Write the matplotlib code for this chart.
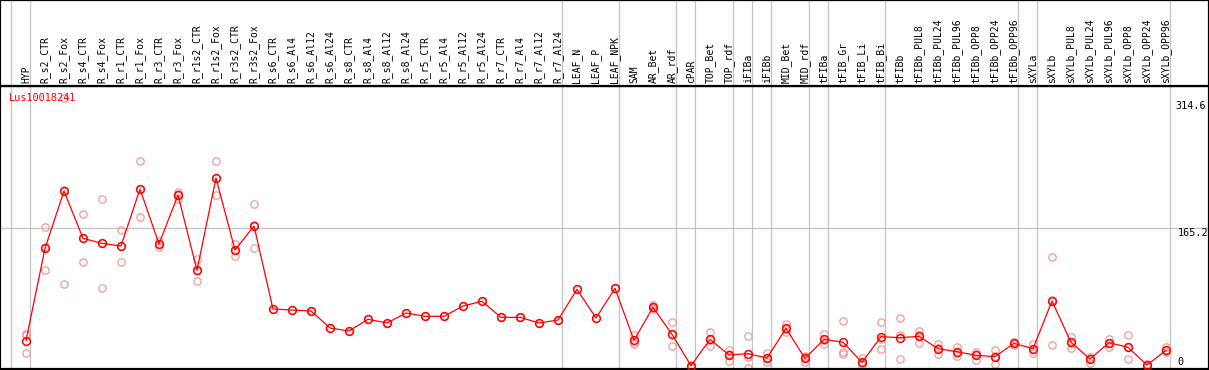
import numpy as np
import matplotlib
matplotlib.use("Agg")
import matplotlib.pyplot as plt

gene_id = "Lus10018241"

samples = [
    "HYP",
    "R_s2_CTR", "R_s2_Fox", "R_s4_CTR", "R_s4_Fox", "R_r1_CTR", "R_r1_Fox",
    "R_r3_CTR", "R_r3_Fox", "R_r1s2_CTR", "R_r1s2_Fox", "R_r3s2_CTR", "R_r3s2_Fox",
    "R_s6_CTR", "R_s6_Al4", "R_s6_Al12", "R_s6_Al24",
    "R_s8_CTR", "R_s8_Al4", "R_s8_Al12", "R_s8_Al24",
    "R_r5_CTR", "R_r5_Al4", "R_r5_Al12", "R_r5_Al24",
    "R_r7_CTR", "R_r7_Al4", "R_r7_Al12", "R_r7_Al24",
    "LEAF_N", "LEAF_P", "LEAF_NPK",
    "SAM", "AR_Bet", "AR_rdf",
    "cPAR",
    "TOP_Bet", "TOP_rdf",
    "iFIBa",
    "iFIBb",
    "MID_Bet", "MID_rdf",
    "tFIBa",
    "tFIB_Gr", "tFIB_Li", "tFIB_Bi",
    "tFIBb", "tFIBb_PUL8", "tFIBb_PUL24", "tFIBb_PUL96",
    "tFIBb_OPP8", "tFIBb_OPP24", "tFIBb_OPP96",
    "sXYLa",
    "sXYLb", "sXYLb_PUL8", "sXYLb_PUL24", "sXYLb_PUL96",
    "sXYLb_OPP8", "sXYLb_OPP24", "sXYLb_OPP96",
]

# number of samples in each tissue group (separated by grey lines)
group_sizes = [1, 28, 3, 3, 1, 2, 1, 1, 2, 1, 3, 7, 1, 7]

# mean expression per sample
mean_expr = [
    32.2,
    141.2, 208.9, 153.0, 147.1, 144.0, 211.2, 146.3, 204.1, 115.3, 224.2, 139.2, 167.6,
    69.6, 68.4, 67.3, 47.2, 43.7, 57.5, 53.1, 64.9,
    61.0, 61.0, 73.2, 78.7, 59.8, 59.8, 53.1, 56.6,
    92.8, 59.0, 94.0,
    32.7, 71.6, 39.7,
    2.7,
    33.8, 15.3,
    16.9,
    11.8,
    46.8, 11.4,
    33.8,
    30.4, 6.7, 37.0,
    35.8, 37.4, 22.8, 19.2, 15.0, 13.4, 29.1,
    22.8,
    79.0, 30.3, 10.6, 29.9, 24.4, 3.5, 20.9,
]

# individual replicates
replicates = [
    [40.1, 39.2, 17.3],
    [166.0, 142.3, 115.3], [318.2, 209.8, 98.7], [181.3, 153.0, 124.7],
    [199.4, 147.9, 94.0], [162.8, 144.5, 124.7], [244.3, 211.5, 177.8],
    [149.5, 146.2, 143.2], [208.0, 205.3, 199.0], [128.3, 115.0, 102.7],
    [244.3, 224.5, 203.8], [146.0, 139.1, 132.5], [193.2, 168.4, 141.2],
    [69.6], [68.4], [67.3], [47.2], [43.7], [57.5], [53.1], [64.9],
    [61.0], [61.0], [73.2], [78.7], [59.8], [59.8], [53.1], [56.6],
    [92.8], [59.0], [94.0],
    [38.9, 31.0, 28.3], [74.3, 71.2, 69.3], [53.9, 39.3, 26.0],
    [4.0, 2.7, 1.5],
    [42.1, 33.4, 26.0], [21.2, 16.0, 8.7],
    [37.8, 13.0, 0.0],
    [17.3, 11.4, 6.7],
    [51.5, 46.0, 42.9], [14.2, 13.3, 6.7],
    [40.1, 33.0, 28.3],
    [55.5, 19.2, 16.5], [11.4, 5.7, 3.0], [53.9, 34.7, 22.4],
    [58.6, 38.5, 10.3], [44.0, 39.0, 29.1], [28.3, 23.2, 16.9], [25.2, 18.2, 14.2],
    [19.2, 16.7, 9.1], [21.2, 14.7, 4.3], [30.5, 29.1, 27.7],
    [28.3, 22.0, 18.1],
    [130.6, 79.7, 26.7], [37.0, 30.0, 24.0], [13.4, 12.0, 6.3], [34.6, 29.9, 25.2],
    [38.6, 24.4, 10.3], [5.0, 3.5, 2.0], [24.4, 20.9, 18.5],
]

y_max = 314.6
y_mid = 165.2

RED = "#ff0000"
PALE = "#f09a9a"
GRID = "#c4c4c4"
MONO = "DejaVu Sans Mono"

W, H = 1209, 370
fig = plt.figure(figsize=(W / 100, H / 100), dpi=100)

header_px = 86
xlim = (-26 / 19, (W - 26) / 19)
ylim = (-1.18, 332.8)

ax = fig.add_axes([0, 1 / H, 1, (H - header_px - 1) / H])
hdr = fig.add_axes([0, (H - header_px) / H, 1, header_px / H])

x = np.arange(len(samples))

# group separators
bounds = np.concatenate([[-1], np.cumsum(group_sizes) - 1]) + 0.21
for a in (ax, hdr):
    for b in bounds:
        a.axvline(b, color=GRID, lw=0.9, zorder=0)

ax.axhline(y_mid, color=GRID, lw=0.9, zorder=0)

# replicates
for i, reps in enumerate(replicates):
    ax.plot([x[i]] * len(reps), reps, linestyle="none", marker="o", ms=5.3,
            mfc="none", mec=PALE, mew=0.9, zorder=2)

# mean profile
ax.plot(x, mean_expr, color=RED, lw=0.9, marker="o", ms=5.6, mfc="none",
        mec=RED, mew=1.1, zorder=3)

ax.set_xlim(*xlim)
ax.set_ylim(*ylim)
ax.set_xticks([])
ax.set_yticks([])
for s in ax.spines.values():
    s.set_color("black")
    s.set_linewidth(1.6)

ax.text(-0.9, 324.5, gene_id, color=RED, fontsize=7.4, family=MONO,
        ha="left", va="top", zorder=4)

# value labels on the right
lab_x = (1175 - 26) / 19
ax.text(lab_x, y_max, f"{y_max:g}", fontsize=7.3, family=MONO, ha="left", va="top")
ax.text(lab_x + 0.15, y_mid, f"{y_mid:g}", fontsize=7.3, family=MONO, ha="left", va="top")
ax.text(lab_x + 0.15, 1.5, "0", fontsize=7.3, family=MONO, ha="left", va="bottom")

# header with sample names
hdr.set_xlim(*xlim)
hdr.set_ylim(0, 1)
hdr.set_xticks([])
hdr.set_yticks([])
for s in hdr.spines.values():
    s.set_color("black")
    s.set_linewidth(1.6)
for i, name in enumerate(samples):
    hdr.text(x[i], 3 / header_px, name, rotation=90, fontsize=7, family=MONO,
             ha="center", va="bottom")

fig.savefig("out.png", dpi=100)
